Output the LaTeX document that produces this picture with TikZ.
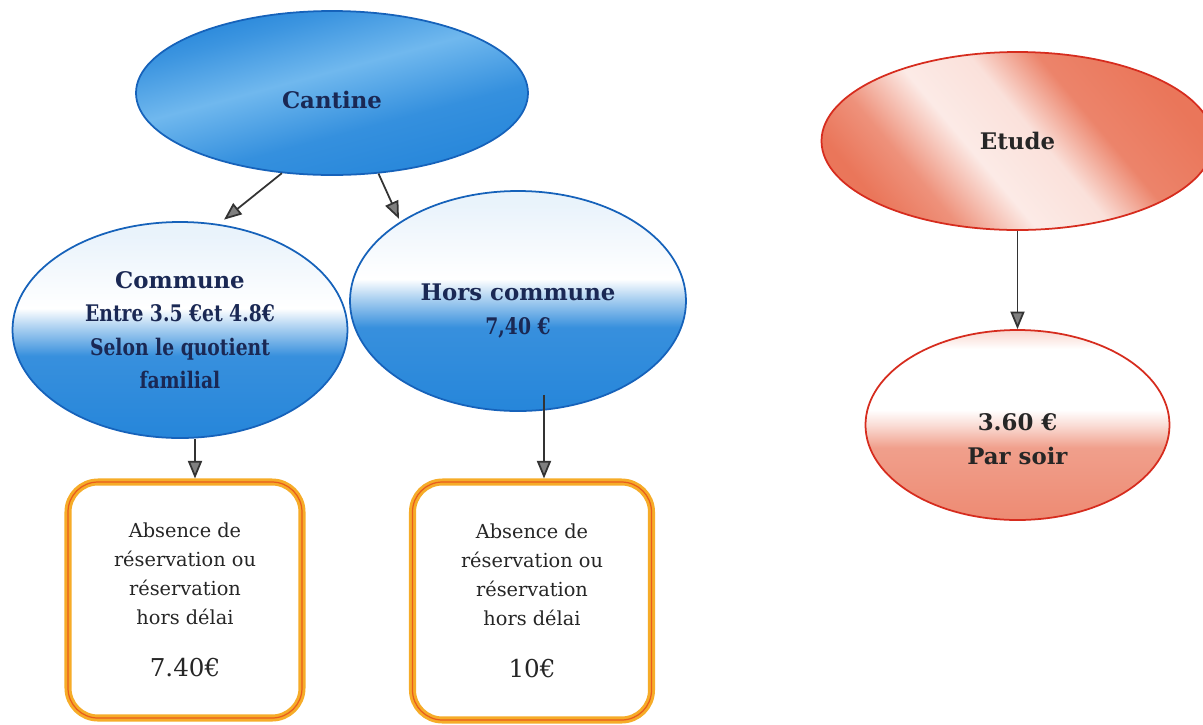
\documentclass[tikz,border=0pt]{standalone}
\usepackage{fontspec}
\setmainfont{DejaVu Serif}
\newfontfamily\narrowserif[FakeStretch=0.82]{DejaVu Serif}
\usetikzlibrary{shapes.geometric}
\usetikzlibrary{arrows.meta}
\definecolor{ellblue}{RGB}{38,134,218}
\definecolor{paleblue}{RGB}{112,184,238}
\definecolor{edgeblue}{RGB}{22,98,186}
\definecolor{salmon}{RGB}{234,118,90}
\definecolor{edgered}{RGB}{214,44,30}
\definecolor{boxorange}{RGB}{246,172,40}
\definecolor{boxred}{RGB}{232,92,30}
\definecolor{navy}{RGB}{26,40,84}
\pgfdeclareverticalshading{cantshade}{100bp}{color(0bp)=(ellblue); color(25bp)=(ellblue);
  color(40bp)=(ellblue!80!paleblue); color(55bp)=(paleblue); color(68bp)=(ellblue!70!paleblue);
  color(75bp)=(ellblue); color(100bp)=(ellblue)}
\pgfdeclarehorizontalshading{etudeshade}{100bp}{color(0bp)=(salmon); color(25bp)=(salmon);
  color(33bp)=(salmon!80); color(43bp)=(salmon!15); color(53bp)=(salmon!22);
  color(62bp)=(salmon!90); color(75bp)=(salmon); color(100bp)=(salmon)}
\pgfdeclareverticalshading{halfblue}{100bp}{color(0bp)=(ellblue); color(25bp)=(ellblue);
  color(44bp)=(ellblue!92); color(51bp)=(ellblue!35); color(55bp)=(white);
  color(72bp)=(white!90!ellblue); color(100bp)=(white!90!ellblue)}
\pgfdeclareverticalshading{halfred}{100bp}{color(0bp)=(salmon); color(25bp)=(salmon!85);
  color(44bp)=(salmon!70); color(50bp)=(salmon!25); color(54bp)=(white);
  color(70bp)=(white); color(75bp)=(salmon!30); color(100bp)=(salmon!30)}
\newcommand{\etitre}[1]{\textbf{#1}}
\newcommand{\etroit}[1]{{\narrowserif\bfseries #1}}
\newcommand{\prix}[1]{{\fontsize{14}{17}\selectfont #1}}

\begin{document}
\begin{tikzpicture}[every node/.style={align=center},
  ell/.style={ellipse,inner sep=0pt,line width=1pt,font=\fontsize{13}{19}\selectfont},
  bleu/.style={ell,draw=edgeblue,text=navy},
  rouge/.style={ell,draw=edgered,text=black!85},
  cadre/.style={rectangle,rounded corners=0.6cm,draw=boxorange,line width=4pt,fill=white,
                font=\fontsize{11}{16.5}\selectfont,text=black!85,
                postaction={draw=boxred,line width=0.7pt}},
  fl/.style={draw=black!80,line width=1pt,-{Triangle[length=10pt,width=8pt,fill=black!50]}}]
 \useasboundingbox (0,0) rectangle (24.06,-14.48);

 \draw (6.64,-1.86)  node[bleu,minimum width=7.84cm,minimum height=3.28cm,
              shading=cantshade,shading angle=15,
              label={[font=\fontsize{13}{19}\selectfont,text=navy,yshift=-0.14cm]center:\etitre{Cantine}}] (Ca)
              {};

 \draw (3.6,-6.6)   node[bleu,minimum width=6.7cm,minimum height=4.32cm,shading=halfblue] (Co)
              {\etitre{Commune}\\ \etroit{Entre 3.5 €et 4.8€}\\ \etroit{Selon le quotient}\\
               \etroit{familial}};

 \draw (10.36,-6.02) node[bleu,minimum width=6.72cm,minimum height=4.4cm,shading=halfblue,
              label={[font=\fontsize{13}{19}\selectfont,text=navy,yshift=-0.2cm]center:\etitre{Hors commune}\\ \etroit{7,40 €}}] (H)
              {};

 \draw (3.7,-12)    node[cadre,minimum width=4.68cm,minimum height=4.72cm] (B1)
              {Absence de\\réservation ou\\réservation\\hors délai\\[13pt] \prix{7.40€}};

 \draw (10.64,-12.02) node[cadre,minimum width=4.78cm,minimum height=4.76cm] (B2)
              {Absence de\\réservation ou\\réservation\\hors délai\\[13pt] \prix{10€}};

 \draw (20.35,-2.82) node[rouge,minimum width=7.84cm,minimum height=3.56cm,
              shading=etudeshade,shading angle=40] (E)
              {\etitre{Etude}};

 \draw (20.35,-8.5)  node[rouge,minimum width=6.08cm,minimum height=3.8cm,shading=halfred,
              label={[font=\fontsize{13}{19}\selectfont,text=black!85,yshift=-0.28cm]center:\etitre{3.60 €}\\ \etitre{Par soir}}] (S)
              {};

 \draw[fl,shorten >=0.14cm] (Ca.238) -- (Co.70);
 \draw[fl,shorten >=0.06cm] (Ca.-60) -- (H.146);
 \draw[fl] ([xshift=0.3cm]Co.south) -- ([xshift=0.3cm]Co.south |- B1.north);
 \draw[fl] ([xshift=0.52cm,yshift=0.34cm]H.south) -- ([xshift=0.52cm]H.south |- B2.north);
 \draw[fl] (E.south) -- (S.north);

\end{tikzpicture}
\end{document}
